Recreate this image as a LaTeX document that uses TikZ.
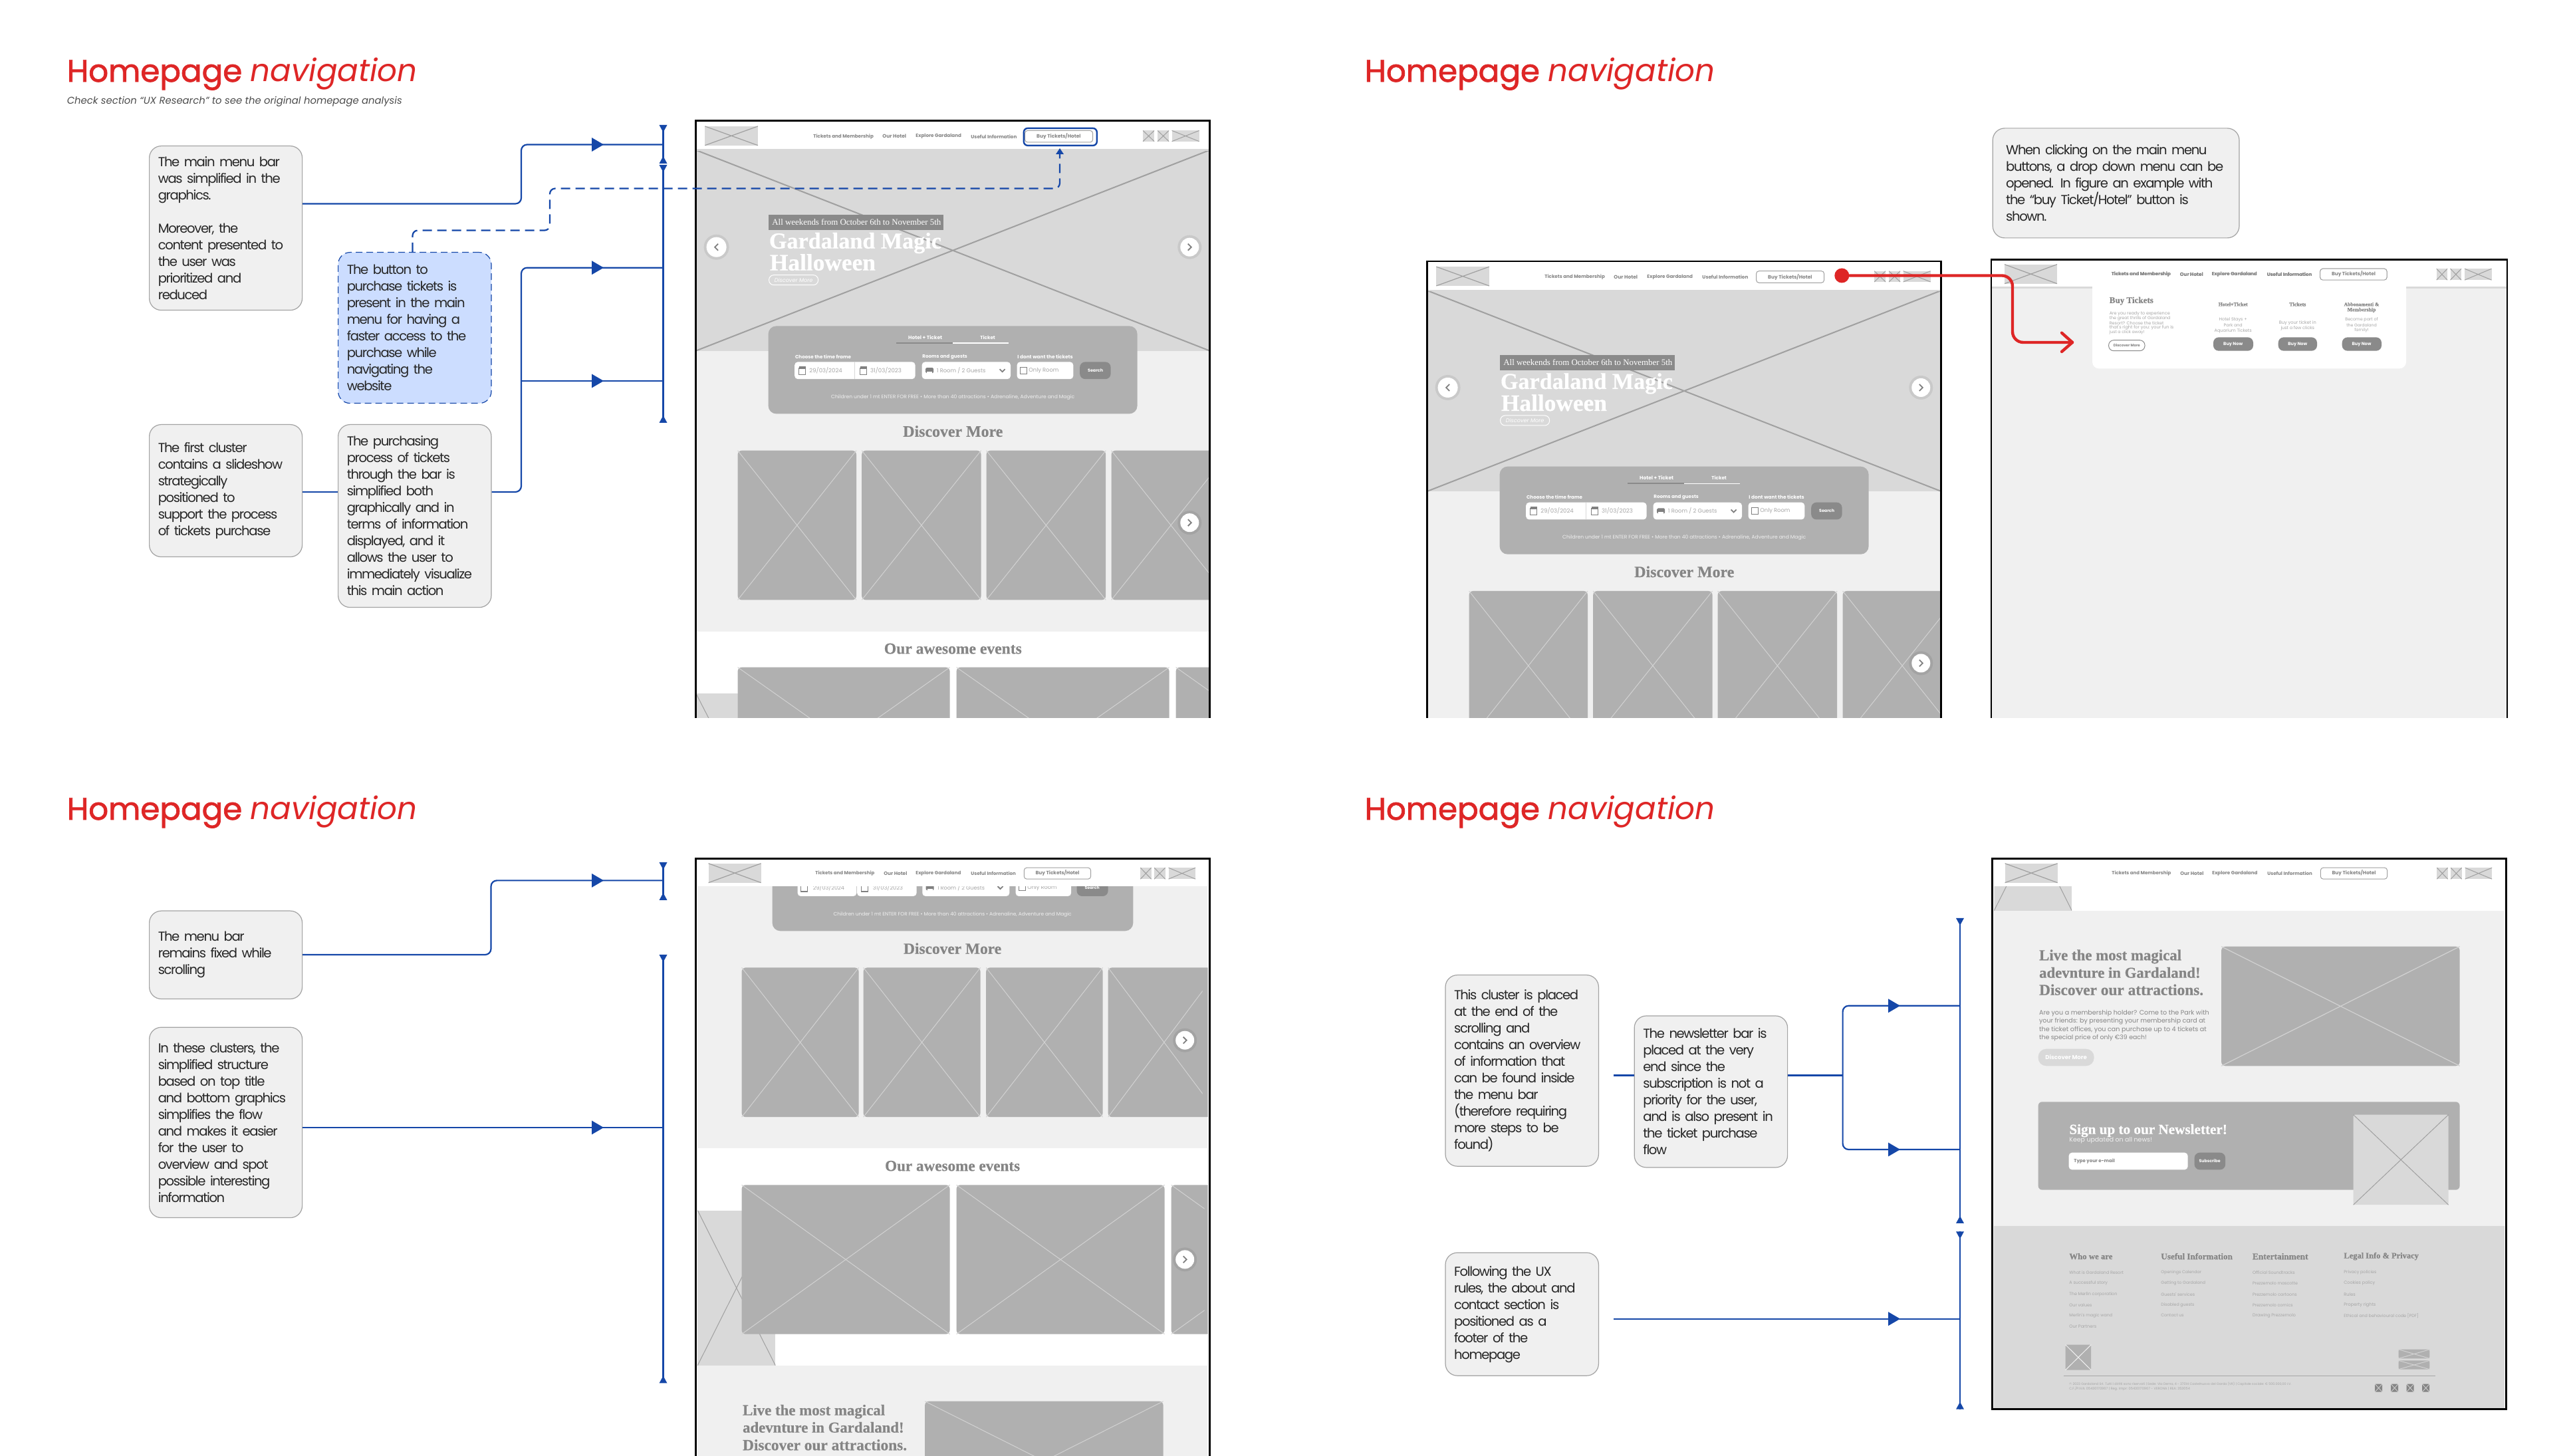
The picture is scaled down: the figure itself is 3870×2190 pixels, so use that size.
\documentclass[tikz,border=0pt]{standalone}
\usepackage{fontspec}
\usepackage{graphicx}
\setmainfont{Poppins}
\newfontfamily\pop{Poppins}
\newfontfamily\popS[LetterSpace=-7]{Poppins}
\newfontfamily\popT[FakeBold=1.6]{Poppins}
\newfontfamily\ser[BoldFeatures={FakeBold=0.5}]{Liberation Serif}
\definecolor{lg}{HTML}{F0F0F0}
\definecolor{mg}{HTML}{D9D9D9}
\definecolor{dg}{HTML}{B0B0B0}
\definecolor{bt}{HTML}{8A8A8A}
\definecolor{tx}{HTML}{858585}
\definecolor{soft}{HTML}{A6A6A6}
\definecolor{xl}{HTML}{A0A0A0}
\definecolor{xc}{HTML}{D2D2D2}
\definecolor{ubl}{HTML}{1547A8}
\definecolor{ure}{HTML}{DE2626}
\definecolor{bbl}{HTML}{CCDDFF}
\definecolor{bord}{HTML}{A3A3A3}
\newdimen\pxu \pxu=0.25pt
\newcounter{tn}
% x, y, anchor, width(px), font, colour, text
\newcommand{\wfT}[7]{\stepcounter{tn}\node[anchor=#3,inner sep=0pt,text=#6] (t\arabic{tn}) at (#1,#2) {\resizebox{#4\pxu}{!}{#5#7}};}
% x1 y1 x2 y2 fill line radius(pt) linewidth(pt)
\newcommand{\wfBox}[8]{\path[fill=#5,rounded corners=#7pt] (#1,#2) rectangle (#3,#4);\draw[#6,line width=#8pt] (#1,#2)--(#3,#4) (#1,#4)--(#3,#2);}
\newcommand{\wfBtn}[4]{\fill[black,opacity=0.07] (#1,#2) circle ({#3+4});\fill[white] (#1,#2) circle (#3);\draw[gray,line width=0.45pt] ({#1-2.5*#4},{#2-5}) -- ({#1+2.5*#4},#2) -- ({#1-2.5*#4},{#2+5});}
\newcommand{\wfCal}[2]{\draw[gray,line width=0.3pt] ({#1-5},{#2-4}) rectangle ({#1+5},{#2+6});\fill[gray] ({#1-5},{#2-6}) rectangle ({#1+5},{#2-2});}
\newcommand{\wfBed}[2]{\fill[gray,rounded corners=0.4pt] ({#1-6},{#2-4}) rectangle ({#1+6},{#2+4});\fill[white] ({#1-4},{#2+2}) rectangle ({#1+4},{#2+5});}
\newcommand{\wfDown}[2]{\draw[gray,line width=0.45pt] ({#1-4},{#2-2}) -- (#1,{#2+2}) -- ({#1+4},{#2-2});}
\newcommand{\hdrBtn}[4]{\draw[fill=white,draw=xl,line width=0.25pt,rounded corners=1pt] (#1,#2) rectangle (#3,#4);}
\newcommand{\ctri}[2]{\fill[ubl] ({#1-9},{#2-10.5}) -- ({#1+9},#2) -- ({#1-9},{#2+10.5}) -- cycle;}
\newcommand{\cbrk}[5]{\coordinate (#4) at (#1,#2);\coordinate (#5) at (#1,#3);\draw[conn] (#4) -- (#5);\fill[ubl] ({#1-6},#2) -- ({#1+6},#2) -- (#1,{#2+11}) -- cycle;\fill[ubl] ({#1-6},#3) -- ({#1+6},#3) -- (#1,{#3-11}) -- cycle;}
\newcommand{\titleT}[2]{\wfT{#1}{#2}{base west}{527}{\popT}{ure}{Homepage {\pop\itshape navigation}}}
% frame-local homepage top part, used by panels 1 and 2
\newcommand{\homeA}{%
\fill[white] (0,0) rectangle (773,900);
\fill[lg] (0,346) rectangle (773,768);
\wfBox{0}{44}{773}{346}{mg}{xl}{0}{0.5}
\draw[mg,line width=0.6pt] (0,44) -- (773,44);
\wfBox{13.7}{8.2}{93.3}{37}{mg}{xl}{0}{0.3}
\wfT{176}{23.5}{west}{90.5}{\pop\bfseries}{tx}{Tickets and Membership}
\wfT{280}{23.5}{west}{35.7}{\pop\bfseries}{tx}{Our Hotel}
\wfT{330}{23.5}{west}{68.6}{\pop\bfseries}{tx}{Explore Gardaland}
\wfT{413}{23.5}{west}{69}{\pop\bfseries}{tx}{Useful Information}
\hdrBtn{495}{14.7}{597}{32.3}
\wfT{545.8}{23.5}{center}{66.4}{\pop\bfseries}{tx}{Buy Tickets/Hotel}
\wfBox{672.5}{14.7}{689.5}{31}{mg}{xl}{0}{0.25}
\wfBox{694.5}{14.7}{711.5}{31}{mg}{xl}{0}{0.25}
\wfBox{716}{14.7}{757}{31}{mg}{xl}{0}{0.25}
\fill[bt] (109,141) rectangle (372.5,164);
\wfT{114}{152.5}{west}{254}{\ser}{white}{All weekends from October 6th to November 5th}
\wfT{109.5}{192}{base west}{259}{\ser\bfseries}{white}{Gardaland Magic}
\wfT{110.5}{225}{base west}{159}{\ser\bfseries}{white}{Halloween}
\draw[white,line width=0.25pt,rounded corners=1.8pt] (110,232) rectangle (184,247);
\wfT{147}{239.5}{center}{57.6}{\pop\itshape}{white}{Discover More}
\wfBtn{31}{190}{15}{-1}
\wfBtn{742.7}{190}{14}{1}
\fill[dg,rounded corners=3pt] (109,308.7) rectangle (664,440.7);
\wfT{345}{326}{center}{51}{\pop\bfseries}{white}{Hotel + Ticket}
\wfT{439}{326}{center}{22.5}{\pop\bfseries}{white}{Ticket}
\draw[bt,line width=0.5pt] (301.7,334.5) -- (386.7,334.5);
\draw[white,line width=0.35pt] (386.7,334.5) -- (470,334.5);
\wfT{148.6}{355}{west}{84}{\pop\bfseries}{white}{Choose the time frame}
\wfT{340}{355}{west}{67.5}{\pop\bfseries}{white}{Rooms and guests}
\wfT{483}{355}{west}{83.4}{\pop\bfseries}{white}{I dont want the tickets}
\fill[white,rounded corners=1.2pt] (148.6,362.7) rectangle (330,388.5);
\fill[white,rounded corners=1.2pt] (340,362.7) rectangle (473.4,388.5);
\fill[white,rounded corners=1.2pt] (483,362.7) rectangle (567.7,388.5);
\fill[bt,rounded corners=2pt] (577.6,362.7) rectangle (624,388.5);
\draw[mg,line width=0.3pt] (239,362.7) -- (239,388.5);
\wfCal{160}{375.5}
\wfCal{252}{375.5}
\wfBed{351.6}{375.5}
\wfDown{461}{375.5}
\draw[gray,line width=0.25pt] (488,370.5) rectangle (497.5,380.5);
\wfT{170}{375.5}{west}{49.4}{\pop}{soft}{29/03/2024}
\wfT{261.6}{375.5}{west}{47}{\pop}{soft}{31/03/2023}
\wfT{361.5}{375.5}{west}{73.5}{\pop}{soft}{1 Room / 2 Guests}
\wfT{500}{375.5}{west}{45}{\pop}{soft}{Only Room}
\wfT{601}{375.5}{center}{23}{\pop\bfseries}{white}{Search}
\wfT{386.6}{415.5}{center}{366}{\pop}{lg}{Children under 1 mt ENTER FOR FREE • More than 40 attractions • Adrenaline, Adventure and Magic}
\wfT{386.7}{467}{center}{150}{\ser\bfseries}{tx}{Discover More}
\wfBox{63}{496}{241.4}{720.7}{dg}{xc}{1.5}{0.25}
\wfBox{249.6}{496}{429}{720.7}{dg}{xc}{1.5}{0.25}
\wfBox{437}{496}{616.6}{720.7}{dg}{xc}{1.5}{0.25}
\wfBox{625}{496}{804}{720.7}{dg}{xc}{1.5}{0.25}
\wfBtn{742.7}{604.5}{14}{1}
\wfBox{0}{861}{120}{1094}{mg}{xl}{0}{0.25}
\wfT{386.7}{794}{center}{207}{\ser\bfseries}{tx}{Our awesome events}
\wfBox{63}{822}{382}{1047}{dg}{xc}{1.5}{0.25}
\wfBox{392}{822}{712}{1047}{dg}{xc}{1.5}{0.25}
\wfBox{722}{822}{1040}{1047}{dg}{xc}{1.5}{0.25}
}
% frame-local header used by panels 3 and 4
\newcommand{\homeH}{%
\fill[white] (0,0) rectangle (773,41.7);
\wfBox{19}{7}{98}{36}{mg}{xl}{0}{0.3}
\wfT{179}{21.7}{west}{89}{\pop\bfseries}{tx}{Tickets and Membership}
\wfT{282}{21.7}{west}{35}{\pop\bfseries}{tx}{Our Hotel}
\wfT{330}{21.7}{west}{68}{\pop\bfseries}{tx}{Explore Gardaland}
\wfT{413}{21.7}{west}{67.5}{\pop\bfseries}{tx}{Useful Information}
\hdrBtn{493.7}{13.5}{594}{30.5}
\wfT{544}{21.7}{center}{66}{\pop\bfseries}{tx}{Buy Tickets/Hotel}
\wfBox{668.7}{13.5}{685}{30.5}{mg}{xl}{0}{0.25}
\wfBox{689.5}{13.5}{706}{30.5}{mg}{xl}{0}{0.25}
\wfBox{711}{13.5}{751.5}{30.5}{mg}{xl}{0}{0.25}
}
\tikzset{
 x=0.25pt,y=-0.25pt,
 frameline/.style={draw=black,line width=0.7pt},
 conn/.style={draw=ubl,line width=0.55pt},
 connround/.style={conn,rounded corners=2.2pt},
 conndash/.style={conn,dash pattern=on 3.5pt off 2pt,rounded corners=2pt},
 callout/.style={draw=bord,line width=0.3pt,fill=lg,rounded corners=4.5pt,anchor=north west,align=left,inner xsep=3.3pt,inner ysep=0pt,text=black!85,font=\popS\fontsize{4.9}{6.25}\selectfont},
 redline/.style={draw=ure,line width=1.1pt,rounded corners=4pt,line cap=round,line join=round},
}
\begin{document}
\begin{tikzpicture}
\useasboundingbox (0,0) rectangle (3870,2190);
\fill[white] (0,0) rectangle (3870,2190);

% ---- titles
\titleT{100}{123}
\wfT{100}{156.5}{base west}{504}{\pop\itshape}{black!70}{Check section “UX Research” to see the original homepage analysis}
\titleT{2051.7}{123}
\titleT{100}{1233}
\titleT{2051.7}{1233}

% ---- panel 1 wireframe
\begin{scope}[shift={(1046.6,181.7)}]
\begin{scope}\clip (0,0) rectangle (773,898.3);\homeA\end{scope}
\draw[frameline] (0,898.3) -- (0,0) -- (773,0) -- (773,898.3);
\node[draw=ubl,line width=0.6pt,rounded corners=1.5pt,inner sep=0pt,minimum width=27.5pt,minimum height=6.5pt,anchor=north west] (hl) at (492,10) {};
\end{scope}

% ---- panel 2 left wireframe
\begin{scope}[shift={(2146.6,393)}]
\begin{scope}\clip (0,0) rectangle (773,687);\homeA\end{scope}
\draw[frameline] (0,687) -- (0,0) -- (773,0) -- (773,687);
\end{scope}

% ---- panel 2 right wireframe
\begin{scope}[shift={(2995,390.7)}]
\fill[lg] (0,0) rectangle (776,689.3);
\begin{scope}[shift={(1,0)}]\homeH\end{scope}
\draw[mg,line width=0.6pt] (0,42) -- (776,42);
\fill[white,rounded corners=2.5pt] (152,30) rectangle (624,163.7);
\begin{scope}[shift={(1,0)}]
\wfT{179}{21.7}{west}{89}{\pop\bfseries}{tx}{Tickets and Membership}
\hdrBtn{493.7}{13.5}{594}{30.5}
\wfT{544}{21.7}{center}{66}{\pop\bfseries}{tx}{Buy Tickets/Hotel}
\wfT{282}{21.7}{west}{35}{\pop\bfseries}{tx}{Our Hotel}
\wfT{330}{21.7}{west}{68}{\pop\bfseries}{tx}{Explore Gardaland}
\wfT{413}{21.7}{west}{67.5}{\pop\bfseries}{tx}{Useful Information}
\end{scope}
\wfT{177}{62}{west}{66}{\ser\bfseries}{tx}{Buy Tickets}
\wfT{177}{80.7}{west}{91}{\pop}{soft}{Are you ready to experience}
\wfT{177}{88}{west}{91.6}{\pop}{soft}{the great thrills of Gardaland}
\wfT{177}{95}{west}{81.7}{\pop}{soft}{Resort? Choose the ticket}
\wfT{177}{102}{west}{96.5}{\pop}{soft}{that's right for you: your fun is}
\wfT{177}{109.7}{west}{52.7}{\pop}{soft}{just a click away!}
\draw[bt,line width=0.25pt,fill=white,rounded corners=1.9pt] (176.6,121) rectangle (231,137);
\wfT{203.8}{129}{center}{40}{\pop\bfseries}{tx}{Discover More}
\wfT{363.7}{67}{center}{44}{\ser\bfseries}{tx}{Hotel+Ticket}
\wfT{460.8}{67}{center}{25}{\ser\bfseries}{tx}{Tickets}
\wfT{557}{67}{center}{52.7}{\ser\bfseries}{tx}{Abbonamenti \&}
\wfT{557}{75.7}{center}{42.8}{\ser\bfseries}{tx}{Membership}
\wfT{363.7}{90.7}{center}{42}{\pop}{soft}{Hotel Stays +}
\wfT{363.7}{98.7}{center}{28}{\pop}{soft}{Park and}
\wfT{363.7}{106.7}{center}{56}{\pop}{soft}{Aquarium Tickets}
\wfT{460.8}{94.7}{center}{56}{\pop}{soft}{Buy your ticket in}
\wfT{460.8}{102.7}{center}{50.5}{\pop}{soft}{just a few clicks}
\wfT{557}{90.7}{center}{49.4}{\pop}{soft}{Become part of}
\wfT{557}{98.7}{center}{45.5}{\pop}{soft}{the Gardaland}
\wfT{557}{106.7}{center}{21.4}{\pop}{soft}{family!}
\fill[bt,rounded corners=2pt] (334,116.7) rectangle (394,137);
\fill[bt,rounded corners=2pt] (431.7,116.7) rectangle (490,137);
\fill[bt,rounded corners=2pt] (527.7,116.7) rectangle (587,137);
\wfT{363.7}{127}{center}{29}{\pop\bfseries}{white}{Buy Now}
\wfT{460.8}{127}{center}{29}{\pop\bfseries}{white}{Buy Now}
\wfT{557}{127}{center}{29}{\pop\bfseries}{white}{Buy Now}
\draw[frameline] (0,689.3) -- (0,0) -- (776,0) -- (776,689.3);
\end{scope}

% ---- panel 3 wireframe
\begin{scope}[shift={(1046.6,1291.7)}]
\begin{scope}\clip (0,0) rectangle (773,898.3);
\fill[white] (0,0) rectangle (773,900);
\fill[lg] (2.7,41.7) rectangle (769.6,435);
\fill[dg,rounded corners=3pt] (115,-30) rectangle (657.7,108.6);
\fill[white,rounded corners=1.2pt] (153,25) rectangle (241.7,56.3);
\fill[white,rounded corners=1.2pt] (242.5,25) rectangle (332,56.3);
\fill[white,rounded corners=1.2pt] (340.7,25) rectangle (471.7,56.3);
\fill[white,rounded corners=1.2pt] (481,25) rectangle (564.5,56.3);
\fill[bt,rounded corners=2pt] (573,25) rectangle (620,56.3);
\wfCal{163}{43.4}
\wfCal{254}{43.4}
\wfBed{352}{43.4}
\wfDown{458}{43.4}
\draw[gray,line width=0.25pt] (486,38) rectangle (495.5,48);
\wfT{175.5}{43.4}{west}{47}{\pop}{soft}{29/03/2024}
\wfT{265.5}{43.4}{west}{45}{\pop}{soft}{31/03/2023}
\wfT{362.6}{43.4}{west}{71}{\pop}{soft}{1 Room / 2 Guests}
\wfT{498}{43.4}{west}{44}{\pop}{soft}{Only Room}
\wfT{596}{43.4}{center}{22}{\pop\bfseries}{white}{Search}
\wfT{386}{84}{center}{358}{\pop}{lg}{Children under 1 mt ENTER FOR FREE • More than 40 attractions • Adrenaline, Adventure and Magic}
\wfT{386}{135}{center}{147}{\ser\bfseries}{tx}{Discover More}
\wfBox{69}{163.7}{245}{388.5}{dg}{xc}{1.5}{0.25}
\wfBox{252}{163.7}{428}{388.5}{dg}{xc}{1.5}{0.25}
\wfBox{436.6}{163.7}{612}{388.5}{dg}{xc}{1.5}{0.25}
\begin{scope}\clip (0,0) rectangle (770,898.3);
\fill[dg,rounded corners=1.5pt] (620,163.7) rectangle (800,388.5);
\end{scope}
\begin{scope}\clip (620,150) rectangle (762,400);
\draw[xc,line width=0.25pt] (620,163.7) -- (788.5,388.5) (620,388.5) -- (788.5,163.7);
\end{scope}
\wfBtn{735.6}{273}{14}{1}
\wfT{386}{462}{center}{203}{\ser\bfseries}{tx}{Our awesome events}
\wfBox{2.7}{529}{119.6}{762}{mg}{xl}{0}{0.25}
\wfBox{69}{490.6}{382}{715}{dg}{xc}{1.5}{0.25}
\wfBox{392}{490.6}{705}{715}{dg}{xc}{1.5}{0.25}
\begin{scope}\clip (0,0) rectangle (770,898.3);
\fill[dg,rounded corners=1.5pt] (715,490.6) rectangle (800,715);
\end{scope}
\begin{scope}\clip (715,480) rectangle (765,720);
\draw[xc,line width=0.25pt] (715,490.6) -- (1028,715) (715,715) -- (1028,490.6);
\end{scope}
\wfBtn{735.6}{602.7}{14}{1}
\fill[lg] (2.7,762) rectangle (769.6,900);
\wfT{69.7}{837}{base west}{214}{\ser\bfseries}{tx}{Live the most magical}
\wfT{69.7}{863}{base west}{242.5}{\ser\bfseries}{tx}{adevnture in Gardaland!}
\wfT{69.7}{889.6}{base west}{247}{\ser\bfseries}{tx}{Discover our attractions.}
\wfBox{344.5}{816}{703}{996}{dg}{xc}{1.5}{0.25}
\homeH
\end{scope}
\draw[frameline] (0,898.3) -- (0,0) -- (773,0) -- (773,898.3);
\end{scope}

% ---- panel 4 wireframe
\begin{scope}[shift={(2996.6,1291.7)}]
\fill[white] (0,0) rectangle (773,828);
\begin{scope}\clip (2.7,41.7) rectangle (119.6,78);
\wfBox{2.7}{-155}{119.6}{78}{mg}{xl}{0}{0.25}
\end{scope}
\fill[lg] (2.7,78) rectangle (769.6,552);
\homeH
\wfT{69.7}{152.6}{base west}{214}{\ser\bfseries}{tx}{Live the most magical}
\wfT{69.7}{179}{base west}{242.5}{\ser\bfseries}{tx}{adevnture in Gardaland!}
\wfT{69.7}{205}{base west}{247}{\ser\bfseries}{tx}{Discover our attractions.}
\wfT{69.7}{234.7}{base west}{255.6}{\pop}{tx}{Are you a membership holder? Come to the Park with}
\wfT{69.7}{247}{base west}{250}{\pop}{tx}{your friends: by presenting your membership card at}
\wfT{69.7}{259.4}{base west}{251.8}{\pop}{tx}{the ticket offices, you can purchase up to 4 tickets at}
\wfT{69.7}{271.7}{base west}{161.8}{\pop}{tx}{the special price of only €39 each!}
\fill[mg,rounded corners=3pt] (69,286) rectangle (153,311.6);
\wfT{111}{298.8}{center}{62.5}{\pop\bfseries}{white}{Discover More}
\wfBox{344.5}{132}{703}{311.6}{dg}{xc}{1.5}{0.3}
\fill[dg,rounded corners=1.5pt] (69,365.6) rectangle (703,498);
\wfT{115}{414}{base west}{237.5}{\ser\bfseries}{white}{Sign up to our Newsletter!}
\wfT{115}{424}{west}{124.5}{\pop}{lg}{Keep updated on all news!}
\fill[white,rounded corners=1.2pt] (115,442) rectangle (294,467.7);
\wfT{122}{454.8}{west}{61.5}{\pop\bfseries}{tx}{Type your e-mail}
\fill[bt,rounded corners=2pt] (304,442) rectangle (350.5,467.7);
\wfT{327}{454.8}{center}{32}{\pop\bfseries}{white}{Subscribe}
\wfBox{543}{385}{686}{520.5}{mg}{xl}{0.6}{0.25}
\fill[mg] (2.7,552) rectangle (770,826);
\wfT{115}{598}{west}{65}{\ser\bfseries}{tx}{Who we are}
\wfT{253}{598}{west}{107.5}{\ser\bfseries}{tx}{Useful Information}
\wfT{390.6}{598}{west}{83.6}{\ser\bfseries}{tx}{Entertainment}
\wfT{528}{598}{west}{112.4}{\ser\bfseries}{tx}{Legal Info \& Privacy}
\wfT{115}{622}{west}{81.6}{\pop}{soft}{What is Gardaland Resort}
\wfT{115}{638.5}{west}{57.7}{\pop}{soft}{A successful story}
\wfT{115}{655}{west}{72}{\pop}{soft}{The Merlin corporation}
\wfT{115}{671.5}{west}{34}{\pop}{soft}{Our values}
\wfT{115}{687}{west}{64.7}{\pop}{soft}{Merlin's magic wand}
\wfT{115}{703.6}{west}{40.8}{\pop}{soft}{Our Partners}
\wfT{253}{622}{west}{60.7}{\pop}{soft}{Openings Calendar}
\wfT{253}{638.5}{west}{66.7}{\pop}{soft}{Getting to Gardaland}
\wfT{253}{655}{west}{50.7}{\pop}{soft}{Guests' services}
\wfT{253}{671.5}{west}{50}{\pop}{soft}{Disabled guests}
\wfT{253}{687}{west}{34.3}{\pop}{soft}{Contact us}
\wfT{390.6}{622}{west}{63.7}{\pop}{soft}{Official Soundtracks}
\wfT{390.6}{638.5}{west}{68}{\pop}{soft}{Prezzemolo mascotte}
\wfT{390.6}{655}{west}{66.7}{\pop}{soft}{Prezzemolo cartoons}
\wfT{390.6}{671.5}{west}{60.7}{\pop}{soft}{Prezzemolo comics}
\wfT{390.6}{687}{west}{65}{\pop}{soft}{Drawing Prezzemolo}
\wfT{528}{622}{west}{49}{\pop}{soft}{Privacy policies}
\wfT{528}{638.5}{west}{46.8}{\pop}{soft}{Cookies policy}
\wfT{528}{655}{west}{17.4}{\pop}{soft}{Rules}
\wfT{528}{671.5}{west}{48}{\pop}{soft}{Property rights}
\wfT{528}{687}{west}{112.4}{\pop}{soft}{Ethical and behavioural code [PDF]}
\wfBox{110}{731}{148.6}{769}{dg}{lg}{0.4}{0.25}
\wfBox{611}{738}{657.7}{751.7}{dg}{xc}{0.6}{0.25}
\wfBox{611}{754.7}{657.7}{768}{dg}{xc}{0.6}{0.25}
\draw[soft,line width=0.25pt] (107,777.6) -- (666,777.6);
\wfT{115}{790}{west}{334}{\pop}{soft}{© 2023 Gardaland Srl. Tutti i diritti sono riservati | Sede: Via Derna, 4 - 37014 Castelnuovo del Garda (VR) | Capitale sociale: € 500.000,00 I.V.}
\wfT{115}{797.5}{west}{181.6}{\pop}{soft}{C.F./P.IVA: 05430170967 | Reg. Impr: 05430170967 - VERONA | REA: 353054}
\wfBox{575.5}{790}{586.5}{802}{tx}{xc}{0.3}{0.2}
\wfBox{599.5}{790}{610.5}{802}{tx}{xc}{0.3}{0.2}
\wfBox{623}{790}{634}{802}{tx}{xc}{0.3}{0.2}
\wfBox{646.5}{790}{657.5}{802}{tx}{xc}{0.3}{0.2}
\draw[frameline] (0,0) rectangle (773,828);
\end{scope}

% ---- callouts panel 1
\node[callout,minimum width=57.5pt,minimum height=61.75pt,text width=50.9pt] (a1) at (224,219) {The main menu bar\\was simplified in the\\graphics.\\[6.25pt]Moreover, the\\content presented to\\the user was\\prioritized and\\reduced};
\node[callout,minimum width=57.6pt,minimum height=56.75pt,text width=51pt,fill=bbl,draw=ubl,dash pattern=on 2.5pt off 1.5pt] (a2) at (508,379) {The button to\\purchase tickets is\\present in the main\\menu for having a\\faster access to the\\purchase while\\navigating the\\website};
\node[callout,minimum width=57.5pt,minimum height=49.75pt,text width=50.9pt] (a3) at (224,638) {The first cluster\\contains a slideshow\\strategically\\positioned to\\support the process\\of tickets purchase};
\node[callout,minimum width=57.6pt,minimum height=68.75pt,text width=51pt] (a4) at (508,638) {The purchasing\\process of tickets\\through the bar is\\simplified both\\graphically and in\\terms of information\\displayed, and it\\allows the user to\\immediately visualize\\this main action};

% ---- callouts panel 2
\node[callout,inner xsep=5pt,minimum width=92.7pt,minimum height=41.25pt,text width=82.7pt] (b1) at (2996.6,192.3) {When clicking on the main menu\\buttons, a drop down menu can be\\opened. In figure an example with\\the “buy Ticket/Hotel” button is\\shown.};

% ---- callouts panel 3
\node[callout,minimum width=57.5pt,minimum height=33.1pt,text width=50.9pt] (c1) at (224,1369.5) {The menu bar\\remains fixed while\\scrolling};
\node[callout,minimum width=57.5pt,minimum height=71.6pt,text width=50.9pt] (c2) at (224,1544.6) {In these clusters, the\\simplified structure\\based on top title\\and bottom graphics\\simplifies the flow\\and makes it easier\\for the user to\\overview and spot\\possible interesting\\information};

% ---- callouts panel 4
\node[callout,minimum width=57.6pt,minimum height=71.9pt,text width=51pt] (d1) at (2173.4,1466) {This cluster is placed\\at the end of the\\scrolling and\\contains an overview\\of information that\\can be found inside\\the menu bar\\(therefore requiring\\more steps to be\\found)};
\node[callout,minimum width=57.6pt,minimum height=57pt,text width=51pt] (d2) at (2457.6,1527.4) {The newsletter bar is\\placed at the very\\end since the\\subscription is not a\\priority for the user,\\and is also present in\\the ticket purchase\\flow};
\node[callout,minimum width=57.6pt,minimum height=46.25pt,text width=51pt] (d3) at (2173.4,1883.6) {Following the UX\\rules, the about and\\contact section is\\positioned as a\\footer of the\\homepage};

% ---- brackets
\cbrk{997.5}{188}{246}{p1a}{p1b}
\cbrk{997.5}{248}{636}{p2a}{p2b}
\cbrk{997.5}{1297}{1354}{p3a}{p3b}
\cbrk{997.5}{1436}{2080.5}{p4a}{p4b}
\cbrk{2948}{1381}{1840}{p5a}{p5b}
\cbrk{2948}{1852.4}{2119.7}{p6a}{p6b}

% ---- connectors panel 1
\coordinate (e1) at (784,306.5);
\coordinate (e2) at (784,217.5);
\draw[connround] (a1.east |- e1) -- (e1) -- (e2) -- (p1a |- e2);
\ctri{899}{217.5}
\coordinate (e3) at (784,740);
\coordinate (e4) at (784,402.7);
\coordinate (e5) at (784,573);
\draw[conn] (a3.east |- e3) -- (a4.west |- e3);
\draw[connround] (a4.east |- e3) -- (e3) -- (e4) -- (p2a |- e4);
\draw[conn] (e5) -- (p2a |- e5);
\ctri{899}{402.7}
\ctri{899}{573}
\coordinate (f1) at (620.5,346.5);
\coordinate (f2) at (827,346.5);
\coordinate (f3) at (827,283.5);
\coordinate (f4) at (1594,283.5);
\coordinate (f5) at (1594,232);
\draw[conndash] (a2.north -| f1) -- (f1) -- (f2) -- (f3) -- (f4) -- (f5);
\fill[ubl] (1588,232) -- (1594,223) -- (1600,232) -- cycle;

% ---- connector panel 2
\node[circle,fill=ure,minimum size=5.5pt,inner sep=0pt] (dot) at (2770.3,414.5) {};
\coordinate (g1) at (3027,414.5);
\coordinate (g2) at (3027,515);
\coordinate (g3) at (3117,515);
\coordinate (g4) at (3101,500.7);
\coordinate (g5) at (3101,529);
\draw[redline] (dot) -- (g1) -- (g2) -- (g3);
\draw[redline,rounded corners=0pt] (g4) -- (g3) -- (g5);

% ---- connectors panel 3
\coordinate (h1) at (738.5,1436);
\coordinate (h2) at (738.5,1324.4);
\draw[connround] (c1.east |- h1) -- (h1) -- (h2) -- (p3a |- h2);
\ctri{899}{1324.4}
\coordinate (h3) at (458,1696);
\draw[conn] (c2.east |- h3) -- (p4a |- h3);
\ctri{899}{1696}

% ---- connectors panel 4
\coordinate (k0) at (2427,1617.6);
\coordinate (k1) at (2771.6,1617.6);
\coordinate (k2) at (2771.6,1512.8);
\coordinate (k3) at (2771.6,1729);
\coordinate (k4) at (2427,1983.7);
\draw[conn] (k0) -- (d2.west |- k0);
\draw[conn] (d2.east |- k1) -- (k1);
\draw[connround] (p5a |- k2) -- (k2) -- (k3) -- (p5a |- k3);
\ctri{2849}{1512.8}
\ctri{2849}{1729}
\draw[conn] (k4) -- (p6a |- k4);
\ctri{2849}{1983.7}
\end{tikzpicture}
\end{document}
